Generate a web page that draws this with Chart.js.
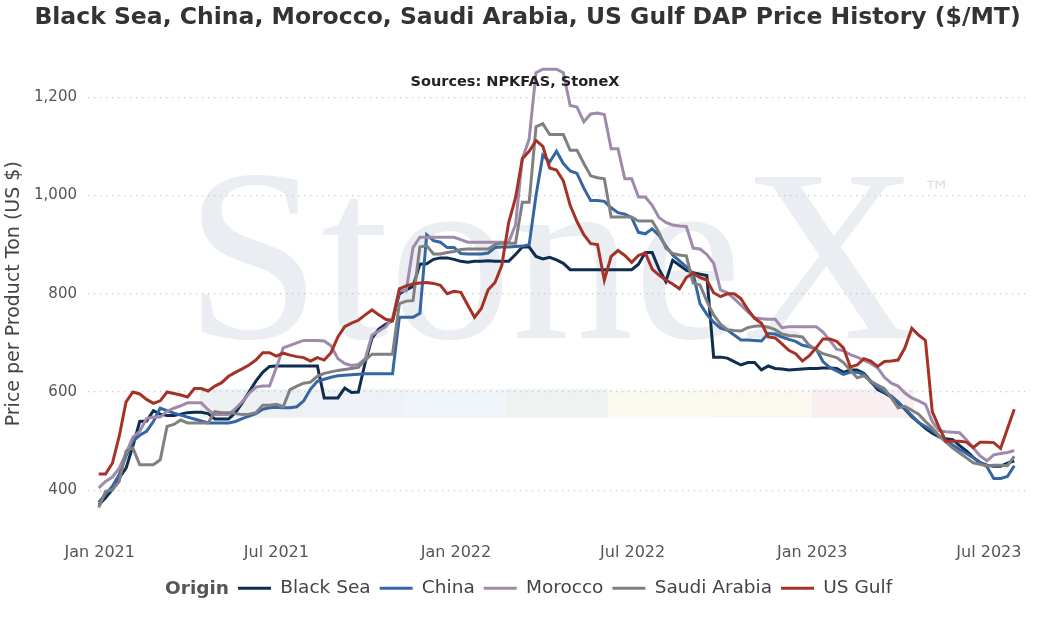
<!DOCTYPE html>
<html>
<head>
<meta charset="utf-8">
<title>DAP Price History</title>
<script src="https://cdn.jsdelivr.net/npm/chart.js@4.4.1/dist/chart.umd.min.js"></script>
<style>
  html, body { margin: 0; padding: 0; background: #fff; }
  #wrap { width: 1046px; height: 620px; }
</style>
</head>
<body>
<div id="wrap"><canvas id="dapChart" width="1046" height="620"></canvas></div>
<script>
// weekly observations, first one on 31 Dec 2020
const firstWeek = "2020-12-31";

const blackSea = [
  370, 385, 402, 425, 445, 490, 540, 541, 562, 555,
  552, 552, 555, 558, 559, 559, 556, 545, 545, 545,
  558, 578, 600, 622, 640, 652, 653, 653, 653, 653,
  653, 653, 653, 588, 588, 588, 608, 599, 600, 660,
  710, 728, 738, 745, 800, 808, 815, 860, 861, 870,
  873, 873, 870, 866, 864, 866, 866, 867, 866, 866,
  866, 880, 895, 895, 876, 871, 874, 869, 862, 849,
  849, 849, 849, 849, 849, 849, 849, 849, 849, 860,
  884, 884, 850, 825, 868, 858, 848, 843, 840, 837,
  671, 671, 669, 662, 655, 660, 660, 645, 653, 648,
  647, 645, 646, 647, 648, 648, 649, 649, 648, 640,
  645, 645, 638, 622, 605, 598, 590, 578, 565, 550,
  538, 526, 516, 509, 505, 503, 491, 480, 467, 456,
  451, 449, 449, 455, 460
];

const china = [
  375, 392, 408, 432, 470, 500, 512, 520, 540, 567,
  562, 557, 553, 549, 545, 541, 537, 537, 537, 537,
  540, 546, 551, 556, 565, 568, 569, 568, 568, 570,
  582, 606, 622, 626, 630, 633, 634, 635, 636, 637,
  637, 637, 637, 637, 752, 752, 752, 760, 920, 908,
  905, 894, 894, 882, 881, 881, 881, 883, 894, 895,
  895, 896, 897, 900, 1000, 1082, 1068, 1090, 1065, 1050,
  1045, 1015, 990, 990, 988, 975, 965, 962, 955, 925,
  922, 932, 919, 897, 879, 867, 855, 841, 780, 758,
  742, 730, 726, 716, 706, 706, 705, 704, 719, 718,
  712, 707, 703, 695, 692, 688, 662, 650, 643, 636,
  640, 640, 636, 620, 609, 600, 592, 580, 566, 552,
  538, 530, 521, 511, 500, 492, 483, 475, 466, 457,
  448, 424, 424, 428, 450
];

const morocco = [
  405, 418, 427, 445, 475, 508, 520, 546, 549, 549,
  561, 567, 572, 578, 578, 578, 564, 554, 554, 554,
  566, 580, 597, 610, 612, 612, 650, 690, 695, 700,
  705, 705, 705, 704, 694, 668, 658, 654, 656, 668,
  716, 724, 733, 750, 806, 806, 894, 915, 915, 915,
  915, 915, 915, 910, 905, 905, 905, 905, 905, 905,
  905, 940, 1075, 1115, 1250, 1257, 1257, 1257, 1250, 1183,
  1180, 1150, 1166, 1168, 1165, 1095, 1095, 1034, 1034, 997,
  997, 980, 955, 945, 940, 938, 937, 893, 891, 880,
  862, 808, 802, 790, 777, 763, 751, 749, 748, 748,
  731, 733, 733, 733, 733, 733, 722, 705, 687, 684,
  676, 671, 665, 658, 649, 630, 618, 612, 598, 588,
  582, 575, 540, 521, 519, 518, 517, 503, 486, 470,
  460, 472, 475, 477, 481
];

const saudiArabia = [
  365, 398, 401, 418, 480, 486, 452, 452, 452, 462,
  530, 534, 543, 537, 537, 537, 537, 560, 558, 558,
  556, 554, 555, 558, 573, 573, 575, 570, 605, 612,
  618, 620, 632, 638, 641, 644, 646, 648, 650, 665,
  677, 677, 677, 677, 780, 785, 786, 895, 898, 881,
  881, 884, 886, 890, 891, 891, 891, 891, 900, 903,
  903, 903, 986, 986, 1140, 1146, 1124, 1124, 1124, 1092,
  1092, 1065, 1040, 1036, 1034, 956, 956, 956, 956, 948,
  948, 948, 925, 893, 882, 879, 877, 822, 818, 785,
  757, 738, 727, 725, 724, 731, 734, 735, 732, 727,
  718, 715, 714, 712, 695, 686, 678, 674, 670, 660,
  645, 629, 633, 622, 614, 607, 588, 568, 571, 563,
  555, 540, 527, 510, 498, 486, 476, 466, 456, 453,
  450, 451, 451, 450, 469
];

const usGulf = [
  433, 433, 455, 510, 580, 600, 596, 585, 577, 582,
  600, 597, 594, 590, 607, 607, 602, 612, 619, 632,
  640, 647, 655, 665, 680, 680, 673, 679, 675, 672,
  670, 663, 670, 665, 680, 712, 733, 740, 746, 757,
  767, 757, 748, 745, 810, 816, 820, 822, 823, 821,
  817, 800, 805, 803, 777, 752, 770, 808, 823, 858,
  945, 995, 1075, 1090, 1112, 1100, 1056, 1052, 1030, 980,
  947, 920, 902, 900, 828, 876, 888, 878, 864, 878,
  883, 850, 838, 828, 820, 810, 833, 842, 833, 828,
  802, 794, 800, 800, 790, 768, 750, 740, 712, 710,
  698, 685, 678, 663, 674, 690, 708, 708, 703, 690,
  651, 655, 668, 663, 652, 662, 663, 665, 690, 730,
  716, 705, 560, 528, 500, 500, 500, 498, 487, 498,
  498, 497, 485, 525, 565
];

const seriesNames = ["Black Sea", "China", "Morocco", "Saudi Arabia", "US Gulf"];
const seriesColors = ["#0e2d4f", "#3566a2", "#a08aab", "#808080", "#a53226"];

const tickDates = ["2021-01-01", "2021-07-01", "2022-01-01", "2022-07-01", "2023-01-01", "2023-07-01"];
const tickLabels = ["Jan 2021", "Jul 2021", "Jan 2022", "Jul 2022", "Jan 2023", "Jul 2023"];
const yTicks = [400, 600, 800, 1000, 1200];

// days counted from 1 Jan 2021
function dayOf(iso) {
  const p = iso.split("-").map(Number);
  return (Date.UTC(p[0], p[1] - 1, p[2]) - Date.UTC(2021, 0, 1)) / 86400000;
}

function toPoints(values) {
  const start = dayOf(firstWeek);
  return values.map((v, i) => ({ x: start + 7 * i, y: v }));
}

const allSeries = [blackSea, china, morocco, saudiArabia, usGulf];

const datasets = allSeries.map((values, i) => ({
  label: seriesNames[i],
  data: toPoints(values),
  borderColor: seriesColors[i],
  backgroundColor: seriesColors[i],
  borderWidth: 3,
  pointRadius: 0,
  tension: 0,
  order: allSeries.length - i // US Gulf drawn on top
}));

// watermark, colour strip, source line and legend heading
const decorations = {
  id: "decorations",
  afterLayout(chart) {
    // nudge legend so the visible group (heading + items) sits centred
    chart.legend.left -= 16;
    chart.legend.right -= 16;
  },
  beforeDraw(chart) {
    const ctx = chart.ctx;
    ctx.save();
    ctx.fillStyle = "#ffffff";
    ctx.fillRect(0, 0, chart.width, chart.height);

    const strip = ["#edf1f4", "#eef2f6", "#f0f5f9", "#eef2f1", "#fafaf1", "#fbf8ef", "#f9eff1"];
    strip.forEach((c, i) => {
      ctx.fillStyle = c;
      ctx.fillRect(200 + i * 102, 389, 102, 29);
    });

    ctx.font = '246px "Liberation Serif", "DejaVu Serif", serif';
    ctx.fillStyle = "#eaeef2";
    ctx.textBaseline = "alphabetic";
    const m = ctx.measureText("StoneX");
    const inkW = m.actualBoundingBoxLeft + m.actualBoundingBoxRight;
    const sx = 714 / inkW;
    ctx.translate(201, 338);
    ctx.scale(sx, 1);
    ctx.fillText("StoneX", m.actualBoundingBoxLeft, 0);
    ctx.restore();

    ctx.save();
    ctx.font = '28px "DejaVu Sans", sans-serif';
    ctx.fillStyle = "#dde3e8";
    ctx.textBaseline = "top";
    ctx.fillText("\u2122", 923, 180);
    ctx.restore();
  },
  afterDraw(chart) {
    const ctx = chart.ctx;
    ctx.save();
    ctx.font = 'bold 14.5px "DejaVu Sans", sans-serif';
    ctx.fillStyle = "#222";
    ctx.textAlign = "center";
    ctx.textBaseline = "middle";
    ctx.fillText("Sources: NPKFAS, StoneX", 515, 82);

    const box = chart.legend.legendHitBoxes[0];
    if (box) {
      ctx.font = 'bold 18.5px "DejaVu Sans", sans-serif';
      ctx.fillStyle = "#555";
      ctx.textAlign = "right";
      ctx.fillText("Origin", box.left + box.width, box.top + box.height / 2 + 1);
    }
    ctx.restore();
  }
};

Chart.defaults.font.family = '"DejaVu Sans", Verdana, sans-serif';

const ctx = document.getElementById("dapChart").getContext("2d");

new Chart(ctx, {
  type: "line",
  data: { datasets: datasets },
  plugins: [decorations],
  options: {
    responsive: false,
    animation: false,
    layout: { padding: { left: 30, right: 21, top: 0, bottom: 12.5 } },
    plugins: {
      title: {
        display: true,
        text: "Black Sea, China, Morocco, Saudi Arabia, US Gulf DAP Price History ($/MT)",
        color: "#333",
        font: { size: 23.5, weight: "bold" },
        padding: { top: 4, bottom: 20.8 }
      },
      legend: {
        position: "bottom",
        onClick: () => {},
        labels: {
          boxWidth: 33,
          boxHeight: 3,
          padding: 9,
          color: "#444",
          font: { size: 18.5 },
          generateLabels(chart) {
            const items = Chart.defaults.plugins.legend.labels.generateLabels(chart)
              .sort((a, b) => a.datasetIndex - b.datasetIndex)
              .map(item => Object.assign(item, { fillStyle: item.strokeStyle, lineWidth: 0 }));
            // placeholder slot for the bold "Origin" heading
            items.unshift({
              text: "Origin",
              fillStyle: "rgba(0,0,0,0)",
              strokeStyle: "rgba(0,0,0,0)",
              fontColor: "rgba(0,0,0,0)",
              lineWidth: 0,
              hidden: false
            });
            return items;
          }
        }
      },
      tooltip: { enabled: false }
    },
    scales: {
      x: {
        type: "linear",
        min: -12,
        max: 948,
        grid: { display: false, drawTicks: false },
        border: { display: false },
        afterBuildTicks(scale) {
          scale.ticks = tickDates.map(d => ({ value: dayOf(d) }));
        },
        afterFit(scale) { scale.height = 35.5; },
        ticks: {
          autoSkip: false,
          maxRotation: 0,
          padding: 9,
          color: "#555",
          font: { size: 16 },
          callback: (value, index) => tickLabels[index]
        }
      },
      y: {
        min: 310,
        max: 1290,
        afterBuildTicks(scale) {
          scale.ticks = yTicks.map(v => ({ value: v }));
        },
        afterFit(scale) { scale.width = 58; },
        grid: { color: "#c4c4c4", lineWidth: 1.2, drawTicks: false },
        border: { display: false, dash: [1.2, 4.8] },
        title: {
          display: true,
          text: "Price per Product Ton (US $)",
          color: "#444",
          font: { size: 19 },
          padding: { top: -27, bottom: 0 }
        },
        ticks: {
          padding: 11,
          color: "#555",
          font: { size: 15 },
          callback: v => v.toLocaleString("en-US")
        }
      }
    }
  }
});
</script>
</body>
</html>
